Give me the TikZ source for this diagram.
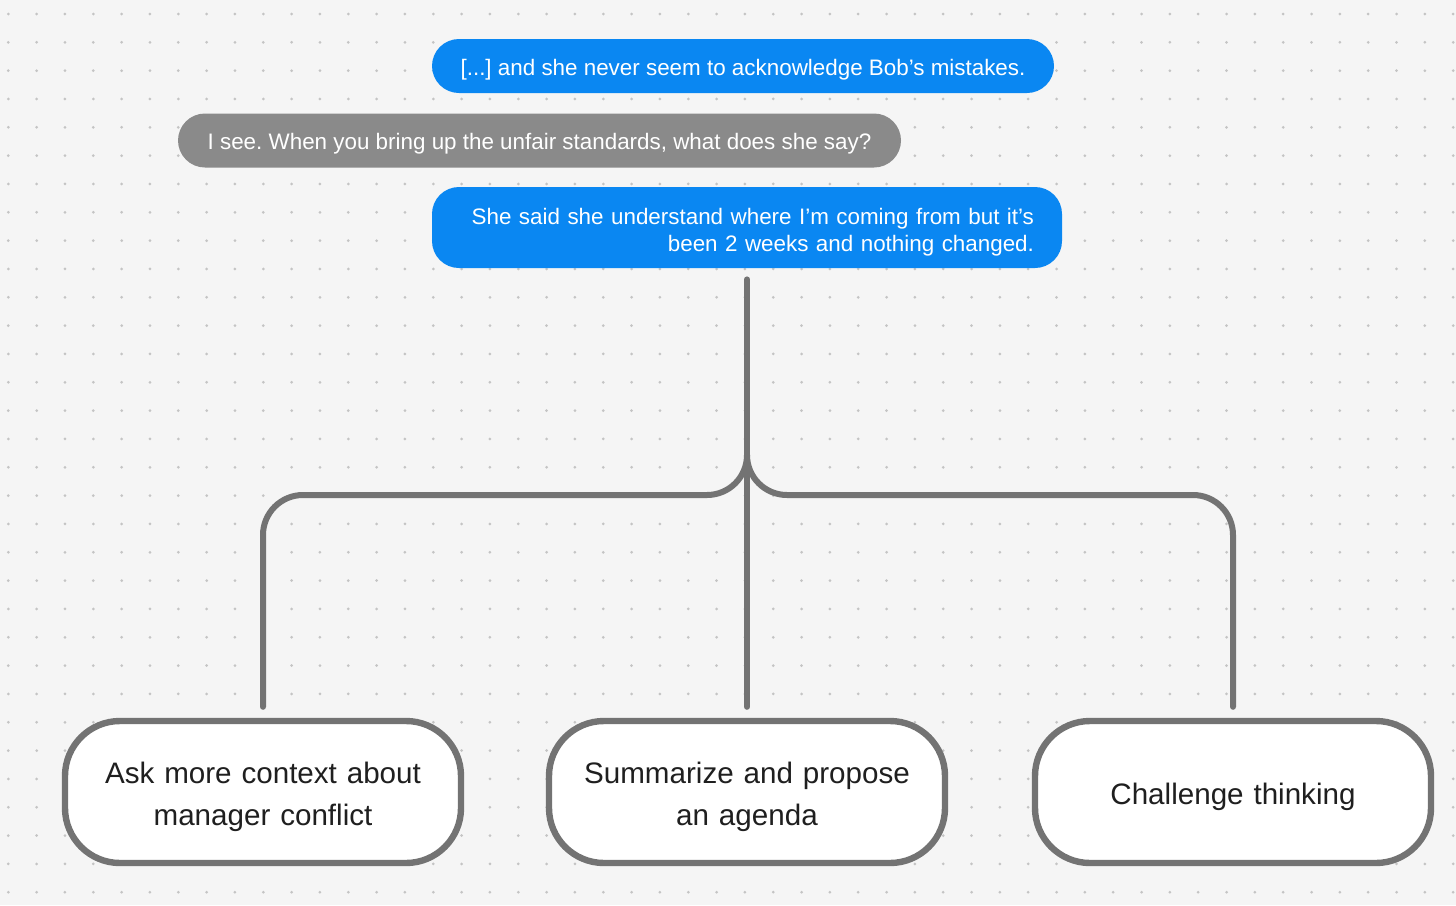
\documentclass[tikz,border=0pt]{standalone}
\usepackage{fontspec}
\setmainfont{Liberation Sans}
\usetikzlibrary{positioning}
\frenchspacing

\definecolor{bgcol}{HTML}{F5F5F5}
\definecolor{dotcol}{HTML}{C4C4C4}
\definecolor{msgblue}{HTML}{0A87F2}
\definecolor{msggray}{HTML}{8A8A8A}
\definecolor{linegray}{HTML}{737373}
\definecolor{textdark}{HTML}{1F1F1F}

\begin{document}
\begin{tikzpicture}[x=0.5pt, y=-0.5pt,
		bubble/.style={rounded corners=13.5pt, text=white, inner xsep=14pt, inner ysep=0pt, minimum height=27pt, font=\fontsize{11.2}{13.5}\selectfont, execute at begin node={\rule{0pt}{11.6pt}}},
		mine/.style={bubble, fill=msgblue},
		theirs/.style={bubble, fill=msggray},
		choice/.style={draw=linegray, line width=3.2pt, fill=white, rounded corners=27.5pt, minimum width=198pt, minimum height=71pt, text width=185pt, align=center, text=textdark, font=\fontsize{14.8}{21}\selectfont, execute at begin node={\rule{0pt}{15.8pt}}},
		link/.style={draw=linegray, line width=3pt, line cap=round, rounded corners=20pt}]
	% Hintergrund mit Punktraster
	\fill[bgcol] (0,0) rectangle (1456,905);
	\useasboundingbox (0,0) rectangle (1456,905);
	\foreach \i in {0,...,51}
		\foreach \j in {0,...,31}
			\fill[dotcol] (8.33+28.33*\i, 14+28.33*\j) circle (0.75pt);
	
	% Chatverlauf
	\node[mine, minimum width=311pt] (msg1) at (743,66) {[...] and she never seem to acknowledge Bob’s mistakes.};
	\node[theirs, minimum width=361.5pt] (msg2) at (539.5,140.5) {I see. When you bring up the unfair standards, what does she say?};
	\node[mine, text width=287pt, align=right, minimum height=40.5pt, execute at begin node={\rule{0pt}{12.4pt}}] (msg3) at (747,227.5) {She said she understand where I’m coming from but it’s\\been 2 weeks and nothing changed.};
	
	% Antwortoptionen
	\node[choice] (opt1) at (263,792) {Ask more context about\\manager conflict};
	\node[choice] (opt2) at (747,792) {Summarize and propose\\an agenda};
	\node[choice] (opt3) at (1233,792) {Challenge thinking};
	
	% Verzweigung
	\coordinate (fork) at (747,455);
	\coordinate (bar) at (747,495);
	\draw[link, shorten <=5.5pt, shorten >=5.5pt] (msg3.south) -- (opt2.north);
	\draw[link, shorten >=5.5pt] (fork) |- (bar -| opt1.north) -- (opt1.north);
	\draw[link, shorten >=5.5pt] (fork) |- (bar -| opt3.north) -- (opt3.north);
\end{tikzpicture}
\end{document}
